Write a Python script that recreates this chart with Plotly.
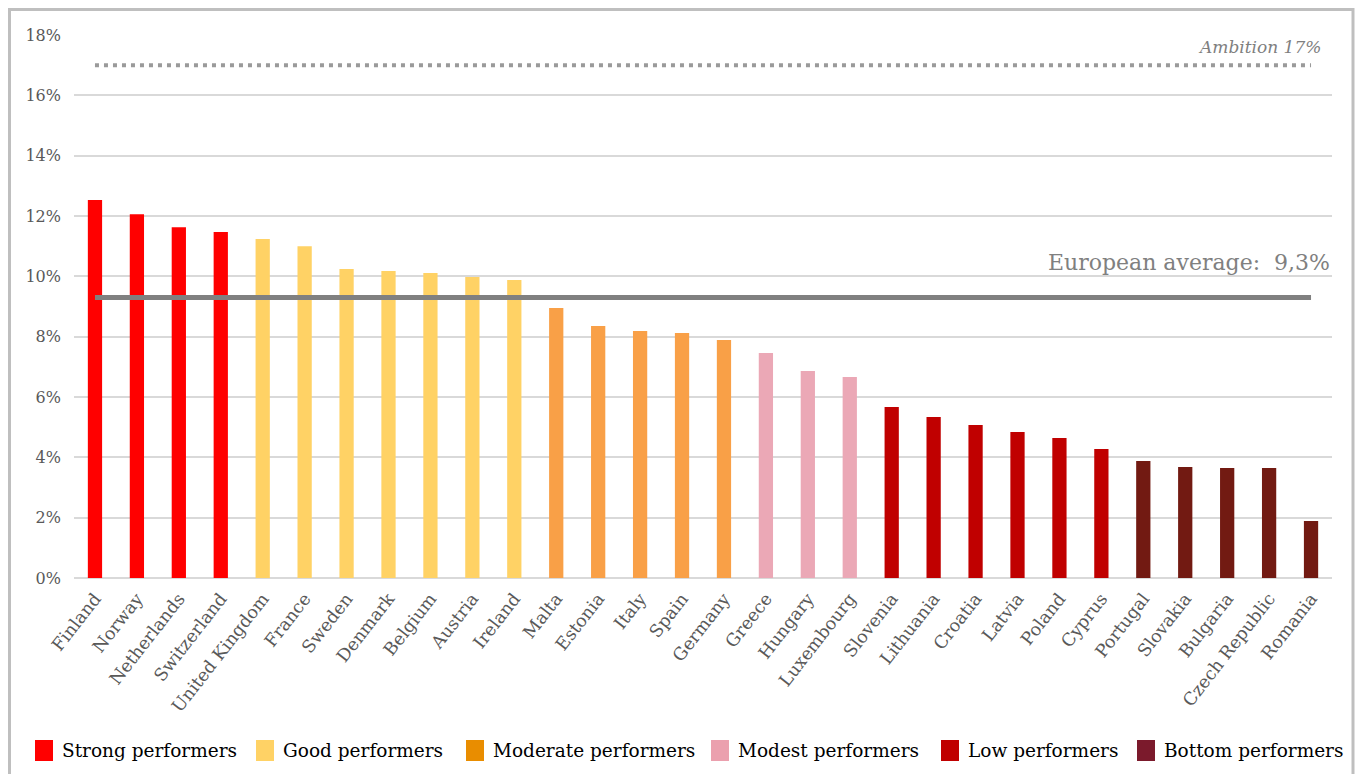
import plotly.graph_objects as go

countries = ["Finland", "Norway", "Netherlands", "Switzerland", "United Kingdom", "France",
             "Sweden", "Denmark", "Belgium", "Austria", "Ireland", "Malta", "Estonia", "Italy",
             "Spain", "Germany", "Greece", "Hungary", "Luxembourg", "Slovenia", "Lithuania",
             "Croatia", "Latvia", "Poland", "Cyprus", "Portugal", "Slovakia", "Bulgaria",
             "Czech Republic", "Romania"]
values = [12.53, 12.06, 11.63, 11.47, 11.24, 11.0, 10.24, 10.18, 10.11, 9.98, 9.88,
          8.95, 8.35, 8.19, 8.12, 7.89, 7.46, 6.86, 6.66, 5.67, 5.34, 5.07, 4.84, 4.64,
          4.28, 3.88, 3.68, 3.65, 3.65, 1.89]
groups = ["Strong"] * 4 + ["Good"] * 7 + ["Moderate"] * 5 + ["Modest"] * 3 + ["Low"] * 6 + ["Bottom"] * 5

group_names = ["Strong", "Good", "Moderate", "Modest", "Low", "Bottom"]
legend_labels = ["Strong performers", "Good performers", "Moderate performers",
                 "Modest performers", "Low performers", "Bottom performers"]
bar_colors = {"Strong": "#FF0000", "Good": "#FFD265", "Moderate": "#F9A047",
              "Modest": "#EBA8B6", "Low": "#C00000", "Bottom": "#721A12"}
legend_colors = {"Strong": "#FF0000", "Good": "#FFD265", "Moderate": "#E98D00",
                 "Modest": "#EBA0AE", "Low": "#C00000", "Bottom": "#7B1A2C"}

european_average = 9.3
ambition = 17.0
y_ticks = [0, 2, 4, 6, 8, 10, 12, 14, 16, 18]
y_tick_labels = [f"{t}%" for t in y_ticks]

font_family = "DejaVu Serif, Liberation Serif, serif"

# ---- layout geometry (pixels in the page) ----
PLOT_L, PLOT_R, PLOT_T, PLOT_B = 74, 1332, 35, 578
PAGE_OFFSET = 8  # default body margin of the html page
FIG_W, FIG_H = 1363 - PAGE_OFFSET, 774 - PAGE_OFFSET


def px_to_paper_x(px):
    return (px - PLOT_L) / (PLOT_R - PLOT_L)


def px_to_paper_y(py):
    return (PLOT_B - py) / (PLOT_B - PLOT_T)


legend_square_left_px = [35, 256, 466, 711, 941, 1137]
LEGEND_SQ_W, LEGEND_TOP, LEGEND_BOTTOM, LEGEND_TEXT_GAP = 18, 740, 761, 7

fig = go.Figure()

fig.add_trace(go.Bar(
    x=countries, y=values,
    marker=dict(color=[bar_colors[g] for g in groups], line=dict(width=0)),
    width=0.34, showlegend=False, hoverinfo="x+y",
))

fig.add_trace(go.Scatter(
    x=[countries[0], countries[-1]], y=[ambition, ambition], mode="lines",
    line=dict(color="#9A9A9A", width=4, dash="4px,5px"), showlegend=False, hoverinfo="skip",
))

fig.add_trace(go.Scatter(
    x=[countries[0], countries[-1]], y=[european_average, european_average], mode="lines",
    line=dict(color="#808080", width=5), showlegend=False, hoverinfo="skip",
))

fig.add_annotation(
    xref="paper", x=0.993, y=17.6, yref="y", xanchor="right", yanchor="middle",
    text="<i>Ambition 17%</i>", showarrow=False,
    font=dict(family=font_family, size=17, color="#7F7F7F"),
)
fig.add_annotation(
    xref="paper", x=1.0, y=10.45, yref="y", xanchor="right", yanchor="middle",
    text="European average:  9,3%", showarrow=False,
    font=dict(family=font_family, size=22, color="#808080"),
)

# legend drawn as squares + labels
for g, lab, left in zip(group_names, legend_labels, legend_square_left_px):
    fig.add_shape(type="rect", xref="paper", yref="paper",
                  x0=px_to_paper_x(left), x1=px_to_paper_x(left + LEGEND_SQ_W),
                  y0=px_to_paper_y(LEGEND_BOTTOM), y1=px_to_paper_y(LEGEND_TOP),
                  fillcolor=legend_colors[g], line=dict(width=0))
    fig.add_annotation(
        xref="paper", yref="paper",
        x=px_to_paper_x(left + LEGEND_SQ_W + LEGEND_TEXT_GAP),
        y=px_to_paper_y((LEGEND_TOP + LEGEND_BOTTOM) / 2),
        xanchor="left", yanchor="middle", text=lab, showarrow=False,
        font=dict(family=font_family, size=18.5, color="#000000"),
    )

# outer frame
fig.add_shape(type="rect", xref="paper", yref="paper",
              x0=px_to_paper_x(9.5), x1=px_to_paper_x(1353), y0=px_to_paper_y(800),
              y1=px_to_paper_y(9.5),
              line=dict(color="#BFBFBF", width=3), layer="below")

fig.update_layout(
    width=FIG_W, height=FIG_H,
    margin=dict(l=PLOT_L - PAGE_OFFSET, r=1363 - PLOT_R, t=PLOT_T - PAGE_OFFSET,
                b=774 - PLOT_B, autoexpand=False),
    paper_bgcolor="white", plot_bgcolor="white",
    font=dict(family=font_family, color="#595959"),
    showlegend=False,
    xaxis=dict(tickangle=-52, tickfont=dict(size=17.5, color="#595959"),
               ticklabelstandoff=6,
               showgrid=False, showline=False, ticks="", automargin=False),
    yaxis=dict(range=[0, 18], tickvals=y_ticks, ticktext=y_tick_labels,
               tickfont=dict(size=16, color="#595959"), ticklabelstandoff=12,
               showgrid=True, gridcolor="#D9D9D9", gridwidth=1.5,
               zeroline=True, zerolinecolor="#D9D9D9", zerolinewidth=1.5,
               showline=False, ticks="", automargin=False),
)

fig.write_html("out.html")
